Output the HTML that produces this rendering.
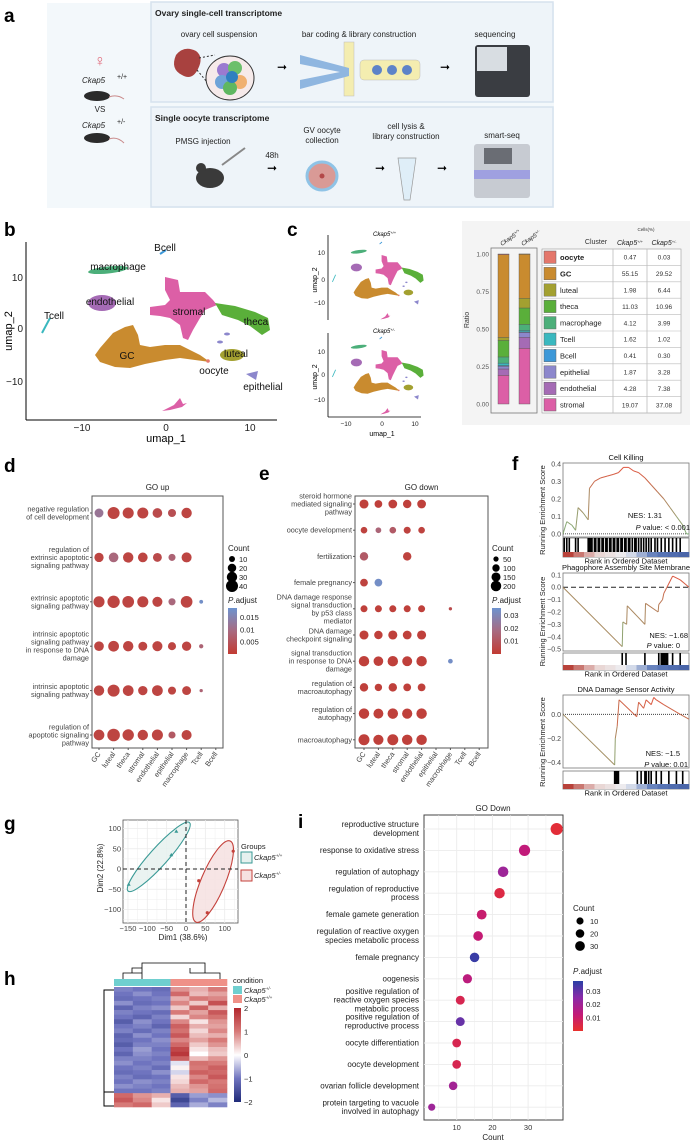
<!DOCTYPE html>
<html><head><meta charset="utf-8">
<style>
html,body{margin:0;padding:0;background:#fff;}
svg{display:block;font-family:"Liberation Sans",Arial,sans-serif;}
.pl{font-weight:bold;font-size:19px;}
.t{font-size:8px;fill:#222;}
.g{font-size:7.3px;fill:#444;}
.tk{font-size:7.5px;fill:#333;}
</style></head>
<body>
<svg id="fig" width="700" height="1141" viewBox="0 0 700 1141" xmlns="http://www.w3.org/2000/svg">
<!-- panel a -->
<g>
<text class="pl" x="4" y="22">a</text>
<rect x="47" y="3" width="507" height="205" fill="#f3f8fb"/>
<rect x="151" y="2" width="402" height="100" fill="#eef4f9" stroke="#d6e2ee" stroke-width="1.5"/>
<rect x="151" y="107" width="402" height="100" fill="#eef4f9" stroke="#d6e2ee" stroke-width="1.5"/>
<text x="155" y="16" font-size="8.5" font-weight="bold" fill="#222">Ovary single-cell transcriptome</text>
<text x="155" y="121" font-size="8.5" font-weight="bold" fill="#222">Single oocyte transcriptome</text>
<text x="219" y="37" class="t" text-anchor="middle">ovary cell suspension</text>
<text x="359" y="37" class="t" text-anchor="middle">bar coding &amp; library construction</text>
<text x="495" y="37" class="t" text-anchor="middle">sequencing</text>
<text x="203" y="144" class="t" text-anchor="middle">PMSG injection</text>
<text x="272" y="158" class="t" text-anchor="middle">48h</text>
<text x="322" y="133" class="t" text-anchor="middle"><tspan x="322">GV oocyte</tspan><tspan x="322" dy="10">collection</tspan></text>
<text x="406" y="129" class="t" text-anchor="middle"><tspan x="406">cell lysis &amp;</tspan><tspan x="406" dy="10">library construction</tspan></text>
<text x="502" y="138" class="t" text-anchor="middle">smart-seq</text>
<!-- left genotypes -->
<text x="100" y="66" font-size="16" fill="#e06a7a" text-anchor="middle">♀</text>
<text x="82" y="83" font-size="8" font-style="italic" fill="#222">Ckap5</text>
<text x="117" y="79" font-size="7" fill="#222">+/+</text>
<ellipse cx="97" cy="96" rx="13" ry="5" fill="#2b2b2b"/>
<path d="M109,97 q8,-3 15,2" stroke="#c98a8a" fill="none"/>
<text x="100" y="112" class="t" text-anchor="middle">VS</text>
<text x="82" y="128" font-size="8" font-style="italic" fill="#222">Ckap5</text>
<text x="117" y="124" font-size="7" fill="#222">+/-</text>
<ellipse cx="97" cy="138" rx="13" ry="5" fill="#2b2b2b"/>
<path d="M109,139 q8,-3 15,4" stroke="#c98a8a" fill="none"/>
<!-- top row icons -->
<path d="M176,55 q8,-10 20,-4 q8,6 2,18 q-6,12 -16,6 q-12,-6 -6,-20z" fill="#a8413f"/>
<line x1="199" y1="58" x2="215" y2="55" stroke="#333" stroke-dasharray="2,2"/>
<line x1="197" y1="70" x2="212" y2="88" stroke="#333" stroke-dasharray="2,2"/>
<ellipse cx="230" cy="78" rx="24" ry="22" fill="#f6eaea" stroke="#333"/>
<circle cx="224" cy="70" r="7" fill="#9b7ad0"/>
<circle cx="235" cy="68" r="7" fill="#6bbf6a"/>
<circle cx="222" cy="82" r="7" fill="#6fa3d8"/>
<circle cx="240" cy="82" r="7" fill="#f0b070"/>
<circle cx="230" cy="88" r="7" fill="#5fb760"/>
<circle cx="232" cy="77" r="6" fill="#2f7fc0"/>
<text x="282" y="71" font-size="12" text-anchor="middle">➞</text>
<rect x="344" y="42" width="10" height="54" fill="#f4edb0" stroke="#bbb" stroke-width="0.5"/>
<path d="M300,55 L349,68 L349,76 L300,89 L300,80 L340,72 L300,64z" fill="#8fb6e0"/>
<rect x="360" y="60" width="60" height="20" rx="4" fill="#f4edb0" stroke="#bbb" stroke-width="0.5"/>
<circle cx="377" cy="70" r="5" fill="#5d83c8"/>
<circle cx="392" cy="70" r="5" fill="#5d83c8"/>
<circle cx="407" cy="70" r="5" fill="#5d83c8"/>
<text x="445" y="71" font-size="12" text-anchor="middle">➞</text>
<rect x="475" y="45" width="55" height="52" rx="3" fill="#3a3d42"/>
<rect x="477" y="47" width="30" height="24" fill="#d8dde2"/>
<!-- bottom row icons -->
<line x1="222" y1="165" x2="245" y2="148" stroke="#888" stroke-width="2"/>
<ellipse cx="210" cy="178" rx="14" ry="10" fill="#3a3a3a"/>
<circle cx="201" cy="168" r="5" fill="#3a3a3a"/>
<text x="272" y="172" font-size="12" text-anchor="middle">➞</text>
<ellipse cx="322" cy="176" rx="15" ry="14" fill="#d99a96" stroke="#8fc3e6" stroke-width="3"/>
<circle cx="322" cy="176" r="2.5" fill="#b34848"/>
<text x="380" y="172" font-size="12" text-anchor="middle">➞</text>
<path d="M398,158 L416,158 L410,200 L404,200z" fill="#dfeef8" stroke="#999" stroke-width="0.7"/>
<text x="442" y="172" font-size="12" text-anchor="middle">➞</text>
<rect x="474" y="144" width="56" height="54" rx="3" fill="#c7cbd2"/>
<rect x="474" y="170" width="56" height="9" fill="#9fa0e0"/>
<rect x="484" y="148" width="28" height="16" fill="#6a6d74"/>
</g>

<!-- cluster shapes definitions for UMAP -->
<defs>
<g id="umapClusters">
<path d="M165,277 L178,280 L180,292 L205,292 L213,300 L217,305 L205,310 L200,318 L193,330 L188,340 L183,338 L180,325 L170,318 L160,316 L150,315 L150,307 L165,305 L170,300 L165,290z" fill="#dc5fa6"/>
<path d="M215,303 L235,306 L255,312 L268,318 L270,330 L262,335 L250,326 L238,320 L222,315z" fill="#5aaf3a"/>
<path d="M100,348 L113,333 L125,327 L133,325 L138,335 L140,345 L150,347 L165,345 L180,345 L190,350 L200,355 L210,362 L195,360 L180,358 L165,360 L145,364 L130,368 L115,367 L100,362 L95,355z" fill="#c98b2f"/>
<ellipse cx="232" cy="355" rx="12" ry="6" fill="#a3a030"/>
<ellipse cx="102" cy="303" rx="14" ry="8" fill="#a56bb5"/>
<ellipse cx="108" cy="270" rx="20" ry="3.5" fill="#4caf7a" transform="rotate(-6 108 270)"/>
<line x1="42" y1="333" x2="50" y2="318" stroke="#3ab8bf" stroke-width="2"/>
<line x1="160" y1="254" x2="166" y2="250" stroke="#3d98d8" stroke-width="2"/>
<path d="M246,374 L258,371 L256,380z" fill="#8c87cc"/>
<ellipse cx="227" cy="334" rx="3" ry="1.5" fill="#8c87cc"/>
<ellipse cx="220" cy="342" rx="3" ry="1.5" fill="#8c87cc"/>
<path d="M162,411 L174,405 L180,398 L183,404 L187,403 L182,407 L170,410z" fill="#dc5fa6"/>
<circle cx="208" cy="361" r="1.8" fill="#e4776b"/>
</g>
</defs>

<!-- panel b -->
<g>
<text class="pl" x="4" y="236">b</text>
<use href="#umapClusters"/>
<line x1="26" y1="242" x2="26" y2="420" stroke="#000"/>
<line x1="26" y1="420" x2="277" y2="420" stroke="#000"/>
<g font-size="10" fill="#222">
<text x="82" y="431" text-anchor="middle">−10</text>
<text x="166" y="431" text-anchor="middle">0</text>
<text x="250" y="431" text-anchor="middle">10</text>
<text x="23" y="281" text-anchor="end">10</text>
<text x="23" y="332" text-anchor="end">0</text>
<text x="23" y="385" text-anchor="end">−10</text>
</g>
<text x="166" y="442" font-size="11" text-anchor="middle">umap_1</text>
<text transform="translate(12,331) rotate(-90)" font-size="11" text-anchor="middle">umap_2</text>
<g font-size="10" fill="#111" text-anchor="middle">
<text x="165" y="251">Bcell</text>
<text x="118" y="270">macrophage</text>
<text x="110" y="305">endothelial</text>
<text x="54" y="319">Tcell</text>
<text x="189" y="315">stromal</text>
<text x="256" y="325">theca</text>
<text x="127" y="359">GC</text>
<text x="236" y="357">luteal</text>
<text x="214" y="374">oocyte</text>
<text x="263" y="390">epithelial</text>
</g>
</g>

<!-- panel c -->
<g>
<text class="pl" x="287" y="236">c</text>
<use href="#umapClusters" transform="translate(382,280) scale(0.4,0.48) translate(-166,-329)"/>
<use href="#umapClusters" transform="translate(382,375) scale(0.4,0.48) translate(-166,-329)"/>
<text x="373" y="236" font-size="6" font-style="italic">Ckap5<tspan font-size="4" dy="-2">+/+</tspan></text>
<text x="373" y="333" font-size="6" font-style="italic">Ckap5<tspan font-size="4" dy="-2">+/-</tspan></text>
<line x1="328" y1="235" x2="328" y2="320" stroke="#000" stroke-width="0.8"/>
<line x1="328" y1="333" x2="328" y2="417" stroke="#000" stroke-width="0.8"/>
<line x1="328" y1="417" x2="421" y2="417" stroke="#000" stroke-width="0.8"/>
<g font-size="6.5" fill="#222" text-anchor="end">
<text x="325" y="255">10</text>
<text x="325" y="282">0</text>
<text x="325" y="305">−10</text>
<text x="325" y="354">10</text>
<text x="325" y="377">0</text>
<text x="325" y="402">−10</text>
</g>
<g font-size="6.5" fill="#222" text-anchor="middle">
<text x="346" y="426">−10</text>
<text x="382" y="426">0</text>
<text x="415" y="426">10</text>
</g>
<text x="382" y="436" font-size="7" text-anchor="middle">umap_1</text>
<text transform="translate(317,280) rotate(-90)" font-size="7" text-anchor="middle">umap_2</text>
<text transform="translate(317,377) rotate(-90)" font-size="7" text-anchor="middle">umap_2</text>
<rect x="462" y="221" width="228" height="204" fill="#f4f4f4"/>
<g id="compo"></g>
</g>

<g id="panelD"><text class="pl" x="4" y="472">d</text></g>
<g id="panelE"><text class="pl" x="259" y="480">e</text></g>
<g id="panelF"><text class="pl" x="512" y="470">f</text></g>
<g id="panelG"><text class="pl" x="4" y="830">g</text></g>
<g id="panelH"><text class="pl" x="4" y="985">h</text></g>
<g id="panelI"><text class="pl" x="298" y="828">i</text></g>
</svg>

<script>
// ===== data: panel c composition =====
const compClusters = ['stromal','endothelial','epithelial','Bcell','Tcell','macrophage','theca','luteal','GC','oocyte'];
const compColors = ['#dc5fa6','#a56bb5','#8c87cc','#3d98d8','#3ab8bf','#4caf7a','#5aaf3a','#a3a030','#c98b2f','#e4776b'];
const compWT = [19.07,4.28,1.87,0.41,1.62,4.12,11.03,1.98,55.15,0.47];
const compHet = [37.08,7.38,3.28,0.30,1.02,3.99,10.96,6.44,29.52,0.03];
const ratioTicks = [0,0.25,0.5,0.75,1];

// ===== data: panel d =====
const dCats = ['GC','luteal','theca','stromal','endothelial','epithelial','macrophage','Tcell','Bcell'];
const dTerms = [['negative regulation','of cell development'],['regulation of','extrinsic apoptotic','signaling pathway'],['extrinsic apoptotic','signaling pathway'],['intrinsic apoptotic','signaling pathway','in response to DNA','damage'],['intrinsic apoptotic','signaling pathway'],['regulation of','apoptotic signaling','pathway']];
const dCounts = [[22,40,34,34,26,18,30,0,0],[24,26,30,26,22,14,28,0,0],[34,42,38,34,28,14,38,4,0],[26,32,30,22,28,18,24,5,0],[30,40,32,24,32,18,22,3,0],[32,44,36,30,34,14,28,0,0]];
const dPadj = [[0.012,0.002,0.002,0.002,0.003,0.004,0.002,0,0],[0.002,0.009,0.002,0.002,0.003,0.008,0.002,0,0],[0.002,0.002,0.002,0.002,0.002,0.009,0.002,0.018,0],[0.002,0.002,0.002,0.002,0.002,0.002,0.002,0.008,0],[0.002,0.002,0.002,0.002,0.002,0.002,0.002,0.008,0],[0.002,0.002,0.002,0.002,0.002,0.006,0.002,0,0]];
const dCountLegend = [10,20,30,40];
const dPadjTicks = [0.015,0.010,0.005];

// ===== data: panel e =====
const eTerms = [['steroid hormone','mediated signaling','pathway'],['oocyte development'],['fertilization'],['female pregnancy'],['DNA damage response','signal transduction','by p53 class','mediator'],['DNA damage','checkpoint signaling'],['signal transduction','in response to DNA','damage'],['regulation of','macroautophagy'],['regulation of','autophagy'],['macroautophagy']];
const eCounts = [[150,110,140,130,140,0,0,0,0],[80,60,80,90,80,0,0,0,0],[130,0,0,130,0,0,0,0,0],[110,110,0,0,0,0,0,0,0],[90,90,90,90,90,0,20,0,0],[150,130,150,140,150,0,0,0,0],[200,170,200,180,200,0,40,0,0],[130,100,130,110,110,0,0,0,0],[200,180,200,190,200,0,0,0,0],[220,190,220,200,200,0,0,0,0]];
const ePadj = [[0.002,0.002,0.002,0.002,0.002,0,0,0,0],[0.003,0.016,0.012,0.003,0.003,0,0,0,0],[0.012,0,0,0.003,0,0,0,0,0],[0.003,0.034,0,0,0,0,0,0,0],[0.002,0.002,0.002,0.002,0.002,0,0.006,0,0],[0.002,0.002,0.002,0.002,0.002,0,0,0,0],[0.002,0.002,0.002,0.002,0.002,0,0.034,0,0],[0.002,0.002,0.002,0.002,0.002,0,0,0,0],[0.002,0.002,0.002,0.002,0.002,0,0,0,0],[0.002,0.002,0.002,0.002,0.002,0,0,0,0]];
const eCountLegend = [50,100,150,200];
const ePadjTicks = [0.03,0.02,0.01];

// ===== data: panel f (GSEA) =====
const g1Rank = [0,0.03,0.07,0.1,0.12,0.16,0.2,0.21,0.25,0.3,0.35,0.4,0.44,0.48,0.52,0.56,0.6,0.65,0.7,0.75,0.8,0.85,0.9,0.95,0.98,1];
const g1Score = [0,0.07,0.05,0.02,0.15,0.12,0.08,0.26,0.3,0.32,0.33,0.34,0.35,0.38,0.38,0.36,0.35,0.32,0.28,0.24,0.2,0.15,0.1,0.05,0.0,0.0];
const g1Hits = [0.01,0.03,0.05,0.1,0.12,0.2,0.21,0.22,0.23,0.25,0.26,0.28,0.29,0.31,0.32,0.34,0.35,0.37,0.38,0.4,0.41,0.43,0.44,0.46,0.47,0.49,0.5,0.52,0.53,0.55,0.57,0.58,0.6,0.62,0.64,0.66,0.68,0.7,0.73,0.75,0.78,0.81,0.84,0.87,0.9,0.93];
const g2Rank = [0,0.47,0.475,0.505,0.51,0.65,0.655,0.755,0.76,0.79,0.8,0.825,0.87,0.93,1];
const g2Score = [0,-0.48,-0.28,-0.3,-0.15,-0.3,-0.13,-0.2,-0.14,-0.1,-0.05,0.0,0.09,0.06,0.0];
const g2Hits = [0.47,0.5,0.65,0.76,0.78,0.79,0.8,0.81,0.82,0.83,0.87,0.93];
const g3Rank = [0,0.41,0.415,0.43,0.445,0.585,0.6,0.64,0.66,0.7,0.72,0.74,0.8,0.93,1];
const g3Score = [0,-0.42,-0.2,-0.1,0.12,-0.02,0.1,0.05,0.12,0.08,0.14,0.12,0.08,0.0,-0.04];
const g3Hits = [0.41,0.42,0.43,0.44,0.59,0.62,0.65,0.66,0.68,0.7,0.74,0.78,0.84,0.9,0.95];

// ===== data: panel g (PCA) =====
const pcaGroups = ['Ckap5+/+','Ckap5+/-'];
const pcaDim1 = [[-148,-38,-25],[33,55,122]];
const pcaDim2 = [[-38,35,93],[-29,-108,44]];
const pcaXTicks = [-150,-100,-50,0,50,100];
const pcaYTicks = [100,50,0,-50,-100];

// ===== data: panel h (heatmap) =====
const hmValues = [
[-0.9,-1.0,-1.1,0.8,0.6,1.0],[-1.0,-0.8,-1.0,1.2,0.5,0.7],[-1.1,-1.0,-0.9,0.6,1.0,0.9],[-0.8,-1.1,-1.0,0.9,0.4,1.5],
[-1.2,-0.9,-0.8,0.4,1.3,0.6],[-0.9,-1.0,-1.1,1.0,0.7,1.4],[-1.0,-1.2,-0.9,0.3,0.9,1.1],[-1.3,-0.8,-1.0,0.9,0.2,0.8],
[-1.0,-0.9,-1.2,1.3,0.6,0.7],[-0.9,-1.1,-0.9,1.1,0.3,0.9],[-1.2,-0.8,-1.0,1.4,0.5,0.6],[-1.1,-1.0,-0.8,0.9,0.7,1.0],
[-1.3,-0.9,-0.9,1.2,0.4,0.8],[-1.0,-0.7,-1.0,1.6,0.2,0.5],[-1.2,-0.8,-0.9,1.8,0.0,0.4],[-0.9,-0.9,-1.0,1.3,0.5,0.8],
[-0.8,-1.0,-0.9,-0.2,1.1,1.0],[-1.0,-0.9,-1.1,0.1,1.0,1.3],[-1.1,-1.0,-0.8,-0.3,1.3,1.2],[-0.9,-1.1,-1.0,0.2,0.9,1.4],
[-1.0,-0.8,-0.9,0.3,1.2,1.0],[-0.8,-0.9,-1.0,0.5,0.8,1.1],[-1.0,-1.0,-0.9,0.6,0.7,1.2],
[1.2,0.8,0.6,-1.3,-0.7,-0.8],[1.4,0.9,0.2,-1.6,-0.9,-0.5],[1.0,1.2,0.4,-1.2,-0.6,-0.9]];
const hmConditions = ['Ckap5+/-','Ckap5+/-','Ckap5+/-','Ckap5+/+','Ckap5+/+','Ckap5+/+'];
const hmScaleTicks = [2,1,0,-1,-2];

// ===== data: panel i =====
const iTerms = [['reproductive structure','development'],['response to oxidative stress'],['regulation of autophagy'],['regulation of reproductive','process'],['female gamete generation'],['regulation of reactive oxygen','species metabolic process'],['female pregnancy'],['oogenesis'],['positive regulation of','reactive oxygen species','metabolic process'],['positive regulation of','reproductive process'],['oocyte differentiation'],['oocyte development'],['ovarian follicle development'],['protein targeting to vacuole','involved in autophagy']];
const iCounts = [38,29,23,22,17,16,15,13,11,11,10,10,9,3];
const iPadj = [0.002,0.013,0.021,0.004,0.011,0.012,0.036,0.014,0.006,0.03,0.006,0.006,0.02,0.021];
const iXTicks = [10,20,30];
const iCountLegend = [10,20,30];
const iPadjTicks = [0.03,0.02,0.01];

// ===== helpers =====
const NS = 'http://www.w3.org/2000/svg';
function el(tag, attrs, parent) {
  const e = document.createElementNS(NS, tag);
  for (const k in attrs) e.setAttribute(k, attrs[k]);
  parent.appendChild(e);
  return e;
}
function txt(str, attrs, parent) { const t = el('text', attrs, parent); t.textContent = str; return t; }
function hex(c){return [parseInt(c.slice(1,3),16),parseInt(c.slice(3,5),16),parseInt(c.slice(5,7),16)];}
function mix(a,b,t){const A=hex(a),B=hex(b);t=Math.max(0,Math.min(1,t));return 'rgb('+A.map((v,i)=>Math.round(v+(B[i]-v)*t)).join(',')+')';}
function ramp(stops,t){t=Math.max(0,Math.min(1,t));const n=stops.length-1;const i=Math.min(n-1,Math.floor(t*n));return mix(stops[i],stops[i+1],t*n-i);}
function multiline(lines, x, yc, lh, cls, parent, name) {
  const t = el('text', {x:x, y:yc-(lines.length-1)*lh/2+2.5, 'text-anchor':'end', class:cls}, parent);
  
  
  lines.forEach((l,i)=>{const s=el('tspan',{x:x,dy:i?lh:0},t); s.textContent=l;});
  return t;
}
function gradDef(id, stops) {
  let defs = document.querySelector('#fig defs');
  const g = el('linearGradient', {id:id, x1:0, y1:1, x2:0, y2:0}, defs);
  stops.forEach((c,i)=>el('stop',{offset:i/(stops.length-1),'stop-color':c},g));
}

// ===== panel c: stacked bars + table =====
(function(){
  const P = document.getElementById('compo');
  const y = v => 404 - v*150;
  const fr = el('rect',{x:491,y:248,width:46,height:165,fill:'none',stroke:'#777','stroke-width':0.8},P);
  
  
  ratioTicks.forEach(v=>{
    const t = txt(v.toFixed(2),{x:489,y:y(v)+2.5,'text-anchor':'end','font-size':6.5,fill:'#555'},P);
    
    
  });
  const rl = txt('Ratio',{transform:'translate(469,320) rotate(-90)','text-anchor':'middle','font-size':7,fill:'#333'},P);
  
  
  [[compWT,498,'Ckap5+/+'],[compHet,519,'Ckap5+/-']].forEach(([vals,x0,name])=>{
    const tot = vals.reduce((a,b)=>a+b,0);
    let acc = 0;
    vals.forEach((v,i)=>{
      const f0 = acc/tot, f1 = (acc+v)/tot; acc += v;
      const r = el('rect',{x:x0,y:y(f1),width:11,height:Math.max(0.3,y(f0)-y(f1)),fill:compColors[i],stroke:'#555','stroke-width':0.4},P);
      
      
    });
    const lb = el('text',{transform:'translate('+(x0+4)+',246) rotate(-35)','font-size':6,'font-style':'italic',fill:'#222'},P);
    
    
    lb.textContent = 'Ckap5';
    const sp = el('tspan',{'font-size':4,dy:-2},lb); sp.textContent = name.slice(5);
  });
  const hdrs = [['Cells(%)',646,231,4.5],['Cluster',596,244,7]];
  hdrs.forEach(h=>{const t=txt(h[0],{x:h[1],y:h[2],'text-anchor':'middle','font-size':h[3],fill:'#333'},P);});
  [[630,'+/+'],[664,'+/-']].forEach(h=>{
    const t = el('text',{x:h[0],y:245,'text-anchor':'middle','font-size':7,'font-style':'italic',fill:'#222'},P);
    
    
    t.textContent='Ckap5'; const s=el('tspan',{'font-size':4,dy:-2},t); s.textContent=h[1];
  });
  const tb = el('rect',{x:542,y:249,width:139,height:164,fill:'#fff',stroke:'#999','stroke-width':0.6},P);
  
  
  [613,647].forEach(x=>{const l=el('line',{x1:x,y1:249,x2:x,y2:413,stroke:'#bbb','stroke-width':0.8},P);});
  const rh = 164/10;
  for (let k=0;k<10;k++){
    const i = 9-k;
    const ry = 249 + k*rh;
    const ln = el('line',{x1:542,y1:ry,x2:681,y2:ry,stroke:'#bbb','stroke-width':0.6},P);
    
    
    const sw = el('rect',{x:544,y:ry+2,width:12,height:rh-4,fill:compColors[i],stroke:'#666','stroke-width':0.5},P);
    
    
    const nm = txt(compClusters[i],{x:560,y:ry+rh/2+2.8,'font-size':7.5,fill:'#222','font-weight':(i>=8?'bold':'normal')},P);
    
    
    const v1 = txt(compWT[i].toFixed(2),{x:630,y:ry+rh/2+2.5,'text-anchor':'middle','font-size':6.5,fill:'#333'},P);
    
    
    const v2 = txt(compHet[i].toFixed(2),{x:664,y:ry+rh/2+2.5,'text-anchor':'middle','font-size':6.5,fill:'#333'},P);
    
    
  }
})();

// ===== dot plots d & e =====
const DE_STOPS = ['#c23b32','#a86a80','#6d93cf'];
function dotPlot(P, cfg) {
  const {box, title, terms, counts, padj, rowY, colX, rFn, pmax, legX, countLeg, padjTicks, gid} = cfg;
  const fr = el('rect',{x:box[0],y:box[1],width:box[2]-box[0],height:box[3]-box[1],fill:'#fff',stroke:'#555','stroke-width':1},P);
  
  
  const tt = txt(title,{x:(box[0]+box[2])/2,y:box[1]-6,'text-anchor':'middle','font-size':8,fill:'#222'},P);
  
  
  terms.forEach((lines,r)=>{
    const y = rowY(r);
    multiline(lines, box[0]-3, y, 8, 'g', P, 'term-label');
    const tk = el('line',{x1:box[0]-2,y1:y,x2:box[0],y2:y,stroke:'#555'},P);
    
    
    counts[r].forEach((c,j)=>{
      if (!c) return;
      const d = el('circle',{cx:colX(j),cy:y,r:rFn(c),fill:ramp(DE_STOPS,padj[r][j]/pmax)},P);
      
      
    });
  });
  dCats.forEach((c,j)=>{
    const x = colX(j);
    const tk = el('line',{x1:x,y1:box[3],x2:x,y2:box[3]+2,stroke:'#555'},P);
    
    
    const t = txt(c,{transform:'translate('+(x+2)+','+(box[3]+6)+') rotate(-55)','text-anchor':'end','font-size':7.3,fill:'#444'},P);
    
    
  });
  const ct = txt('Count',{x:legX,y:551,'font-size':8,fill:'#222'},P);
  
  
  countLeg.forEach((c,k)=>{
    const cy = 559 + k*9;
    const d = el('circle',{cx:legX+4,cy:cy,r:rFn(c),fill:'#000'},P);
    
    
    const t = txt(String(c),{x:legX+11,y:cy+3,'font-size':7.5,fill:'#222'},P);
    
    
  });
  const pt = el('text',{x:legX,y:603,'font-size':8,fill:'#222'},P);
  
  
  const ps = el('tspan',{'font-style':'italic'},pt); ps.textContent='P'; const ps2=el('tspan',{},pt); ps2.textContent='.adjust';
  gradDef(gid, DE_STOPS);
  const gb = el('rect',{x:legX,y:608,width:9,height:46,fill:'url(#'+gid+')'},P);
  
  
  padjTicks.forEach(v=>{
    const yy = 654 - (v/pmax)*46;
    const t = txt(String(v),{x:legX+12,y:yy+2.5,'font-size':7.5,fill:'#222'},P);
    
    
  });
}
dotPlot(document.getElementById('panelD'), {
  box:[92,496,223,748], title:'GO up', terms:dTerms, counts:dCounts, padj:dPadj,
  rowY:r=>513+r*44.4, colX:j=>99+j*14.6, rFn:c=>0.95*Math.sqrt(c), pmax:0.019,
  legX:228, countLeg:dCountLegend, padjTicks:dPadjTicks, gid:'gradD'});
dotPlot(document.getElementById('panelE'), {
  box:[355,496,488,748], title:'GO down', terms:eTerms, counts:eCounts, padj:ePadj,
  rowY:r=>504+r*26.2, colX:j=>364+j*14.4, rFn:c=>0.37*Math.sqrt(c), pmax:0.036,
  legX:492, countLeg:eCountLegend, padjTicks:ePadjTicks, gid:'gradE'});

// ===== panel f: GSEA =====
function gsea(P, cfg) {
  const {title, top, bot, yTop, yBot, ticks, rank, score, hits, dash, nes, pv, bar} = cfg;
  const x0 = 563, x1 = 689;
  const sx = f => x0 + f*(x1-x0);
  const sy = v => top + (yTop - v)/(yTop - yBot)*(bot-top);
  const tt = txt(title,{x:626,y:top-3,'text-anchor':'middle','font-size':7.5,fill:'#111'},P);
  
  
  const fr = el('rect',{x:x0,y:top,width:x1-x0,height:bot-top,fill:'#fff',stroke:'#777','stroke-width':0.8},P);
  
  
  ticks.forEach(v=>{
    const t = txt(v.toFixed(1).replace('-','−'),{x:x0-2,y:sy(v)+2.5,'text-anchor':'end','font-size':7,fill:'#444'},P);
    
    
  });
  const zl = el('line',{x1:x0,y1:sy(0),x2:x1,y2:sy(0),stroke:'#222','stroke-width':dash?1:0.8,'stroke-dasharray':dash?'5,3':'1,1'},P);
  
  
  const smax = Math.max(...score.map(Math.abs));
  for (let i=1;i<rank.length;i++){
    const v = (score[i]+score[i-1])/2;
    const s = el('line',{x1:sx(rank[i-1]),y1:sy(score[i-1]),x2:sx(rank[i]),y2:sy(score[i]),stroke:mix('#7fb27a','#e0553f',(v-Math.min(...score))/(Math.max(...score)-Math.min(...score)+1e-9)),'stroke-width':1},P);
    
    
  }
  const bb = el('rect',{x:x0,y:bar[0],width:x1-x0,height:bar[1]-bar[0],fill:'#fff',stroke:'#777','stroke-width':0.8},P);
  
  
  const strip = 5;
  for (let k=0;k<12;k++){
    const r = el('rect',{x:x0+k*(x1-x0)/12,y:bar[1]-strip,width:(x1-x0)/12+0.3,height:strip,fill:ramp(['#b8423a','#e8d4d2','#eef0f4','#5b78b8','#4a65a8'],k/11)},P);
    
    
  }
  hits.forEach(h=>{
    const l = el('line',{x1:sx(h),y1:bar[0],x2:sx(h),y2:bar[1]-strip,stroke:'#000','stroke-width':1.6},P);
    
    
  });
  const rt = txt('Rank in Ordered Dataset',{x:626,y:bar[1]+6.5,'text-anchor':'middle','font-size':7.5,fill:'#111'},P);
  
  
  const yl = txt('Running Enrichment Score',{transform:'translate(545,'+((top+bar[1])/2)+') rotate(-90)','text-anchor':'middle','font-size':7.5,fill:'#222'},P);
  
  
  const n = txt(nes[0],{x:nes[1],y:nes[2],'text-anchor':'end','font-size':7.5,fill:'#111'},P);
  
  
  const p = el('text',{x:pv[1],y:pv[2],'text-anchor':'end','font-size':7.5,fill:'#111'},P);
  
  
  const pi = el('tspan',{'font-style':'italic'},p); pi.textContent='P';
  const pr = el('tspan',{},p); pr.textContent=pv[0];
}
const PF = document.getElementById('panelF');
gsea(PF,{title:'Cell Killing',top:463,bot:537,yTop:0.405,yBot:-0.018,ticks:[0.4,0.3,0.2,0.1,0.0],rank:g1Rank,score:g1Score,hits:g1Hits,dash:false,nes:['NES: 1.31',662,518],pv:[' value: < 0.001',690,530],bar:[538,557]});
gsea(PF,{title:'Phagophore Assembly Site Membrane',top:573,bot:651,yTop:0.115,yBot:-0.515,ticks:[0.1,0.0,-0.1,-0.2,-0.3,-0.4,-0.5],rank:g2Rank,score:g2Score,hits:g2Hits,dash:true,nes:['NES: −1.68',688,638],pv:[' value: 0',680,648],bar:[653,670]});
gsea(PF,{title:'DNA Damage Sensor Activity',top:695,bot:768,yTop:0.16,yBot:-0.445,ticks:[0.0,-0.2,-0.4],rank:g3Rank,score:g3Score,hits:g3Hits,dash:false,nes:['NES: −1.5',680,756],pv:[' value: 0.01',688,767],bar:[771,789]});

// ===== panel g: PCA =====
(function(){
  const P = document.getElementById('panelG');
  const bx=[123,820,238,923];
  const sx = v => 186 + v*0.387;
  const sy = v => 869 - v*0.405;
  const fr = el('rect',{x:bx[0],y:bx[1],width:bx[2]-bx[0],height:bx[3]-bx[1],fill:'#fff',stroke:'#555','stroke-width':0.8},P);
  
  
  for (let v=-175; v<=125; v+=25){ if(sx(v)>bx[0]&&sx(v)<bx[2]){const l=el('line',{x1:sx(v),y1:bx[1],x2:sx(v),y2:bx[3],stroke:'#ebebeb','stroke-width':v%50?0.4:0.8},P);}}
  for (let v=-125; v<=125; v+=25){ if(sy(v)>bx[1]&&sy(v)<bx[3]){const l=el('line',{x1:bx[0],y1:sy(v),x2:bx[2],y2:sy(v),stroke:'#ebebeb','stroke-width':v%50?0.4:0.8},P);}}
  const cols = ['#3a9a96','#c4413b'], fills=['#e6f1ef','#f6e1e0'];
  const ell = [[46,9],[44,12]];
  pcaGroups.forEach((g,k)=>{
    const xs = pcaDim1[k].map(sx), ys = pcaDim2[k].map(sy);
    const cx = xs.reduce((a,b)=>a+b,0)/xs.length, cy = ys.reduce((a,b)=>a+b,0)/ys.length;
    // orientation from extreme points
    let i0=0,i1=0; xs.forEach((x,i)=>{if(ys[i]>ys[i0])i0=i; if(ys[i]<ys[i1])i1=i;});
    const ang = Math.atan2(ys[i1]-ys[i0], xs[i1]-xs[i0])*180/Math.PI;
    const e = el('ellipse',{cx:cx,cy:cy,rx:ell[k][0],ry:ell[k][1],transform:'rotate('+ang+' '+cx+' '+cy+')',fill:fills[k],'fill-opacity':0.85,stroke:cols[k],'stroke-width':1.1},P);
    
    
    xs.forEach((x,i)=>{
      const pnt = k===0 ? el('path',{d:'M'+x+','+(ys[i]-2)+' l2,3.4 l-4,0z',fill:cols[k]},P) : el('circle',{cx:x,cy:ys[i],r:1.6,fill:cols[k]},P);
      
      
    });
  });
  const v0 = el('line',{x1:sx(0),y1:bx[1],x2:sx(0),y2:bx[3],stroke:'#222','stroke-dasharray':'4,3'},P);
  
  
  const h0 = el('line',{x1:bx[0],y1:sy(0),x2:bx[2],y2:sy(0),stroke:'#222','stroke-dasharray':'4,3'},P);
  
  
  pcaXTicks.forEach(v=>{const t=txt(String(v).replace('-','−'),{x:sx(v),y:931,'text-anchor':'middle','font-size':7.5,fill:'#444'},P);});
  pcaYTicks.forEach(v=>{const t=txt(String(v).replace('-','−'),{x:121,y:sy(v)+2.5,'text-anchor':'end','font-size':7.5,fill:'#444'},P);});
  const xt = txt('Dim1 (38.6%)',{x:183,y:940,'text-anchor':'middle','font-size':8,fill:'#222'},P);
  
  
  const yt = txt('Dim2 (22.8%)',{transform:'translate(103,868) rotate(-90)','text-anchor':'middle','font-size':8,fill:'#222'},P);
  
  
  const gt = txt('Groups',{x:241,y:849,'font-size':7.5,fill:'#222'},P);
  
  
  pcaGroups.forEach((g,k)=>{
    const yy = 852 + k*18;
    const b = el('rect',{x:241,y:yy,width:11,height:11,fill:fills[k],stroke:cols[k],'stroke-width':1},P);
    
    
    const t = el('text',{x:254,y:yy+8,'font-size':7.5,'font-style':'italic',fill:'#222'},P);
    
    
    t.textContent='Ckap5'; const s=el('tspan',{'font-size':4.5,dy:-3},t); s.textContent=g.slice(5);
  });
})();

// ===== panel h: heatmap =====
(function(){
  const P = document.getElementById('panelH');
  const x0=114, x1=227, y0=987, y1=1107;
  const cw=(x1-x0)/6, rh=(y1-y0)/hmValues.length;
  const HS = ['#1f2a78','#6f74bf','#ffffff','#d77a78','#b2262c'];
  const col = v => ramp(HS,(v+2)/4);
  hmValues.forEach((row,r)=>row.forEach((v,c)=>{
    const rc = el('rect',{x:x0+c*cw,y:y0+r*rh,width:cw+0.3,height:rh+0.3,fill:col(v)},P);
    
    
  }));
  hmConditions.forEach((cnd,c)=>{
    const rc = el('rect',{x:x0+c*cw,y:979,width:cw+0.3,height:7,fill:cnd==='Ckap5+/-'?'#6fcfcf':'#ef9188'},P);
    
    
  });
  const dg = el('path',{d:'M123,979 V973 H142 V979 M132,973 V968 H142 V973 M142,968 V963 H205 V968 M190,968 V973 H220 V979 M205,973 V968 M205,963 V966',fill:'none',stroke:'#000','stroke-width':0.8},P);
  
  
  const dgl = el('path',{d:'M114,990 H104 V1092 H114 M104,1096 V1106 H114 M104,1092 L104,1100',fill:'none',stroke:'#000','stroke-width':1},P);
  
  
  const ct = txt('condition',{x:233,y:983,'font-size':7.5,fill:'#222'},P);
  
  
  [['#6fcfcf','+/-'],['#ef9188','+/+']].forEach((e,k)=>{
    const yy = 986 + k*9;
    const r = el('rect',{x:233,y:yy,width:9,height:8,fill:e[0]},P);
    
    
    const t = el('text',{x:244,y:yy+7,'font-size':7.5,'font-style':'italic',fill:'#222'},P);
    
    
    t.textContent='Ckap5'; const s=el('tspan',{'font-size':4.5,dy:-3},t); s.textContent=e[1];
  });
  gradDef('gradH', HS);
  const cb = el('rect',{x:234,y:1008,width:7,height:94,fill:'url(#gradH)'},P);
  
  
  hmScaleTicks.forEach(v=>{
    const t = txt(String(v).replace('-','−'),{x:244,y:1055-v*23.5+3,'font-size':7.5,fill:'#222'},P);
    
    
  });
})();

// ===== panel i =====
(function(){
  const P = document.getElementById('panelI');
  const bx=[424,815,563,1120];
  const sx = v => 421 + v*3.57;
  const ry = r => 829 + r*21.4;
  const I_STOPS = ['#e8302c','#c21a78','#8a2aa8','#2a40a6'];
  const pmax = 0.038;
  const rFn = c => 2.6 + 0.56*Math.sqrt(c);
  const fr = el('rect',{x:bx[0],y:bx[1],width:bx[2]-bx[0],height:bx[3]-bx[1],fill:'#fff',stroke:'#444','stroke-width':1},P);
  
  
  for (let v=5; v<=40; v+=5){const x=sx(v); if(x<bx[2]){const l=el('line',{x1:x,y1:bx[1],x2:x,y2:bx[3],stroke:'#ececec','stroke-width':v%10?0.5:0.9},P);}}
  const tt = txt('GO Down',{x:493,y:811,'text-anchor':'middle','font-size':8,fill:'#222'},P);
  
  
  iTerms.forEach((lines,r)=>{
    const y = ry(r);
    const gl = el('line',{x1:bx[0],y1:y,x2:bx[2],y2:y,stroke:'#ececec','stroke-width':0.9},P);
    
    
    multiline(lines, 419, y, 8.8, 't', P, 'go-term-label');
  });
  iTerms.forEach((lines,r)=>{
    const d = el('circle',{cx:sx(iCounts[r]),cy:ry(r),r:rFn(iCounts[r]),fill:ramp(I_STOPS,iPadj[r]/pmax)},P);
    
    
  });
  iXTicks.forEach(v=>{
    const t = txt(String(v),{x:sx(v),y:1130,'text-anchor':'middle','font-size':7.5,fill:'#333'},P);
    
    
  });
  const xt = txt('Count',{x:493,y:1140,'text-anchor':'middle','font-size':8,fill:'#222'},P);
  
  
  const ct = txt('Count',{x:573,y:911,'font-size':8,fill:'#222'},P);
  
  
  iCountLegend.forEach((c,k)=>{
    const yy = 921 + k*12.5;
    const d = el('circle',{cx:580,cy:yy,r:rFn(c)-0.8,fill:'#000'},P);
    
    
    const t = txt(String(c),{x:590,y:yy+3,'font-size':7.5,fill:'#222'},P);
    
    
  });
  const pt = el('text',{x:573,y:974,'font-size':8,fill:'#222'},P);
  
  
  const ps = el('tspan',{'font-style':'italic'},pt); ps.textContent='P'; const ps2=el('tspan',{},pt); ps2.textContent='.adjust';
  gradDef('gradI', I_STOPS);
  const gb = el('rect',{x:573,y:981,width:10,height:50,fill:'url(#gradI)'},P);
  
  
  iPadjTicks.forEach(v=>{
    const yy = 1031 - (v/pmax)*50 + (v===0.03?0:0);
    const t = txt(String(v),{x:586,y:yy+2.5,'font-size':7.5,fill:'#222'},P);
    
    
  });
})();
</script>
</body></html>
